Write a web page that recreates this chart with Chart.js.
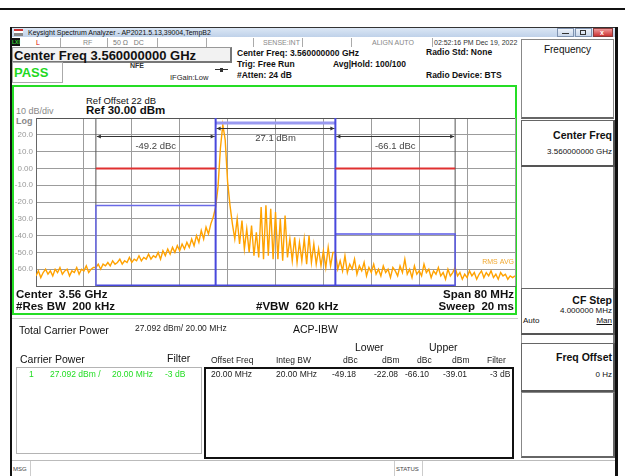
<!DOCTYPE html>
<html><head><meta charset="utf-8">
<script src="https://cdn.jsdelivr.net/npm/chart.js@4.4.1/dist/chart.umd.min.js"></script>
<style>
html,body{margin:0;padding:0;background:#fff;width:625px;height:476px;overflow:hidden;position:relative;font-family:'Liberation Sans',Arial,sans-serif;}
.t{position:absolute;white-space:nowrap;line-height:1;color:#111;}
.b{font-weight:bold;}
.box{position:absolute;box-sizing:border-box;}
.ln{position:absolute;}
</style></head><body>
<script>
// ---------------- DATA ----------------
const spanStartMHz = -40;           // offset from center 3.56 GHz
const spanStopMHz = 40;
// trace (RMS AVG), dBm, one value per 0.4 MHz from -40 MHz to +40 MHz
const traceLower1 = [-64,-61,-65,-62,-60,-63,-61,-64,-60,-62,-59,-63,-61,-60,-64,-61,-62,-59,-63,-60,-61,-58,-62,-60,-59];
const traceLower2 = [-59,-57,-60,-57,-58,-56,-58,-55,-57,-56,-54,-57,-55,-56,-53,-56,-54,-55,-52,-55,-53,-54,-51,-54,-52];
const traceLower3 = [-53,-50,-54,-49,-52,-48,-51,-47,-50,-46,-49,-45,-48,-44,-47,-42,-46,-40,-44,-37,-42,-35,-39,-33,-29];
const traceCarrier1 = [-23,-11,12,26,17,-8,-22,-33,-42,-30,-45,-31,-48,-36,-50,-34,-52,-38,-53,-23,-54,-22,-52,-24,-54];
const traceCarrier2 = [-26,-54,-30,-55,-28,-53,-42,-55,-41,-56,-44,-55,-42,-57,-40,-56,-45,-57,-48,-58,-49,-59,-47,-58,-50];
const traceUpper1 = [-50,-60,-55,-61,-52,-62,-57,-60,-54,-63,-58,-61,-56,-64,-59,-62,-57,-63,-60,-64,-58,-62,-60,-65,-59];
const traceUpper2 = [-61,-64,-58,-62,-54,-63,-60,-65,-58,-63,-61,-64,-57,-62,-60,-65,-61,-63,-59,-64,-62,-66,-60,-64,-62];
const traceUpper3 = [-59,-64,-62,-66,-63,-65,-61,-64,-62,-66,-63,-61,-65,-62,-64,-61,-65,-63,-66,-62,-64,-63,-66,-64,-65,-64];
const traceDbm = [].concat(traceLower1,traceLower2,traceLower3,traceCarrier1,traceCarrier2,traceUpper1,traceUpper2,traceUpper3);

const lowerChannelMHz = [-30, -10];
const carrierChannelMHz = [-10, 10];
const upperChannelMHz = [10, 30];
const channelPowerDbm = [-22.08, 27.09, -39.01];   // lower, carrier, upper
const limitDbm = 0;
const acpLabels = ['-49.2 dBc', '27.1 dBm', '-66.1 dBc'];
const refLevelDbm = 30;
const bottomDbm = -70;
</script>

<!-- window frame -->
<div class="ln" style="left:0;top:8px;width:625px;height:2px;background:#111"></div>
<div class="ln" style="left:10px;top:27px;width:608px;height:1px;background:#333"></div>
<div class="ln" style="left:10px;top:27px;width:2px;height:449px;background:#111"></div>
<div class="ln" style="left:615px;top:27px;width:3px;height:449px;background:#111"></div>
<div class="ln" style="left:12px;top:28px;width:603px;height:9px;background:linear-gradient(#dbe7f5,#bfd1e9)"></div>
<div class="ln" style="left:14px;top:29px;width:9px;height:7px;background:linear-gradient(#c33 0 30%,#fff 30% 55%,#888 55%)"></div>
<div class="t" style="left:28px;top:29px;font-size:7px;color:#111">Keysight Spectrum Analyzer - AP2021.5.13,39004,TempB2</div>
<div class="box" style="left:557px;top:28px;width:17px;height:9px;border:1px solid #7f93b0;background:linear-gradient(#eef3fa,#c9d7ea)"></div>
<div class="ln" style="left:562px;top:33px;width:7px;height:1px;background:#333"></div>
<div class="box" style="left:575px;top:28px;width:17px;height:9px;border:1px solid #7f93b0;background:linear-gradient(#eef3fa,#c9d7ea)"></div>
<div class="box" style="left:580px;top:30px;width:6px;height:5px;border:1px solid #333"></div>
<div class="box" style="left:593px;top:28px;width:20px;height:9px;border:1px solid #8a3a3a;background:linear-gradient(#e99,#c33)"></div>
<div class="t b" style="left:600px;top:29px;font-size:7px;color:#fff">x</div>

<!-- status row -->
<div class="box" style="left:12px;top:38px;width:8px;height:8px;background:#111"></div>
<div class="t b" style="left:12px;top:39.5px;font-size:5px;color:#3c3">LXI</div>
<div class="t" style="left:36px;top:38.5px;font-size:7px;color:#d00">L</div>
<div class="t" style="left:83px;top:38.5px;font-size:7px;color:#888">RF</div>
<div class="t" style="left:113px;top:38.5px;font-size:7px;color:#777">50 Ω&nbsp;&nbsp; DC</div>
<div class="t" style="left:263px;top:38.5px;font-size:7px;color:#888">SENSE:INT</div>
<div class="t" style="left:372px;top:38.5px;font-size:7px;color:#888">ALIGN AUTO</div>
<div class="t" style="left:434px;top:38.5px;font-size:7px;color:#333">02:52:16 PM Dec 19, 2022</div>
<div class="ln" style="left:60px;top:38px;width:1px;height:9px;background:#aaa"></div>
<div class="ln" style="left:107px;top:38px;width:1px;height:9px;background:#aaa"></div>
<div class="ln" style="left:157px;top:38px;width:1px;height:9px;background:#aaa"></div>
<div class="ln" style="left:206px;top:38px;width:1px;height:9px;background:#aaa"></div>
<div class="ln" style="left:253px;top:38px;width:1px;height:9px;background:#aaa"></div>
<div class="ln" style="left:302px;top:38px;width:1px;height:9px;background:#aaa"></div>
<div class="ln" style="left:351px;top:38px;width:1px;height:9px;background:#aaa"></div>
<div class="ln" style="left:432px;top:38px;width:1px;height:9px;background:#aaa"></div>

<!-- header -->
<div class="box" style="left:12px;top:47px;width:220px;height:16px;border:1px solid #999;border-right:2px solid #777;border-bottom:2px solid #777;background:#f2f2f2"></div>
<div class="t b" style="left:14px;top:48.5px;font-size:13px">Center Freq 3.560000000 GHz</div>
<div class="box" style="left:12px;top:62px;width:51px;height:21px;border:1px solid #aaa;background:#fff"></div>
<div class="t b" style="left:14px;top:65.5px;font-size:13px;color:#1fd81f">PASS</div>
<div class="t b" style="left:130px;top:62px;font-size:7px;color:#333">NFE</div>
<div class="t" style="left:170px;top:73.5px;font-size:7.5px;color:#222">IFGain:Low</div>
<div class="ln" style="left:215px;top:69px;width:13px;height:1px;background:#333"></div>
<div class="ln" style="left:220px;top:67.5px;width:3px;height:4px;background:#333"></div>
<div class="t b" style="left:237px;top:48.5px;font-size:8.5px">Center Freq: 3.560000000 GHz</div>
<div class="t b" style="left:237px;top:60px;font-size:8.5px">Trig: Free Run</div>
<div class="t b" style="left:237px;top:70.5px;font-size:8.5px">#Atten: 24 dB</div>
<div class="t b" style="left:333px;top:60px;font-size:8.5px">Avg|Hold: 100/100</div>
<div class="t b" style="left:426px;top:48px;font-size:8.5px">Radio Std: None</div>
<div class="t b" style="left:426px;top:71px;font-size:8.5px">Radio Device: BTS</div>

<!-- graph frame -->
<div class="box" style="left:12px;top:85px;width:505px;height:230px;border:2px solid #25dd25"></div>
<div class="t" style="left:86px;top:96px;font-size:9.5px">Ref Offset 22 dB</div>
<div class="t b" style="left:86px;top:105px;font-size:11.5px">Ref 30.00 dBm</div>
<div class="t" style="left:16px;top:107px;font-size:9px;color:#888">10 dB/div</div>
<div class="t b" style="left:16px;top:116.5px;font-size:9px;color:#888">Log</div>
<div class="box" style="left:12px;top:100px;width:506px;height:200px;">
  <canvas id="c" width="506" height="200" style="width:506px;height:200px"></canvas>
</div>
<div class="t b" style="left:16px;top:288.5px;font-size:11.5px">Center&nbsp; 3.56 GHz</div>
<div class="t b" style="left:16px;top:300.5px;font-size:11.5px">#Res BW&nbsp; 200 kHz</div>
<div class="t b" style="left:256px;top:300.5px;font-size:11.5px">#VBW&nbsp; 620 kHz</div>
<div class="t b" style="right:111px;top:288.5px;font-size:11.5px">Span 80 MHz</div>
<div class="t b" style="right:111px;top:300.5px;font-size:11.5px">Sweep&nbsp; 20 ms</div>

<!-- results -->
<div class="ln" style="left:12px;top:318px;width:506px;height:1px;background:#ccc"></div>
<div class="t" style="left:19px;top:325px;font-size:10.5px">Total Carrier Power</div>
<div class="t" style="left:135px;top:323.5px;font-size:8.5px;color:#222">27.092 dBm/ 20.00 MHz</div>
<div class="t" style="left:293px;top:324px;font-size:10.5px">ACP-IBW</div>
<div class="t" style="left:355px;top:342px;font-size:10.5px">Lower</div>
<div class="t" style="left:429px;top:342px;font-size:10.5px">Upper</div>
<div class="t" style="left:20px;top:353.5px;font-size:10.5px">Carrier Power</div>
<div class="t" style="left:167px;top:352.5px;font-size:10.5px">Filter</div>
<div class="t" style="left:211px;top:355.5px;font-size:8.5px;color:#222">Offset Freq</div>
<div class="t" style="left:276px;top:355.5px;font-size:8.5px;color:#222">Integ BW</div>
<div class="t" style="left:343px;top:355.5px;font-size:8.5px;color:#222">dBc</div>
<div class="t" style="left:382px;top:355.5px;font-size:8.5px;color:#222">dBm</div>
<div class="t" style="left:417px;top:355.5px;font-size:8.5px;color:#222">dBc</div>
<div class="t" style="left:452px;top:355.5px;font-size:8.5px;color:#222">dBm</div>
<div class="t" style="left:487px;top:355.5px;font-size:8.5px;color:#222">Filter</div>
<div class="box" style="left:16px;top:367px;width:186px;height:87px;border:1px solid #b4b4b4"></div>
<div class="box" style="left:204px;top:367px;width:310px;height:92px;border:2px solid #111"></div>
<div class="t" style="left:29px;top:370px;font-size:8.5px;color:#22dd22">1</div>
<div class="t" style="left:50px;top:370px;font-size:8.5px;color:#22dd22">27.092 dBm /</div>
<div class="t" style="left:112px;top:370px;font-size:8.5px;color:#22dd22">20.00 MHz</div>
<div class="t" style="left:165px;top:370px;font-size:8.5px;color:#22dd22">-3 dB</div>
<div class="t" style="left:211px;top:370px;font-size:8.5px;color:#222">20.00 MHz</div>
<div class="t" style="left:276px;top:370px;font-size:8.5px;color:#222">20.00 MHz</div>
<div class="t" style="left:332px;top:370px;font-size:8.5px;color:#222">-49.18</div>
<div class="t" style="left:374px;top:370px;font-size:8.5px;color:#222">-22.08</div>
<div class="t" style="left:405px;top:370px;font-size:8.5px;color:#222">-66.10</div>
<div class="t" style="left:443px;top:370px;font-size:8.5px;color:#222">-39.01</div>
<div class="t" style="left:490px;top:370px;font-size:8.5px;color:#222">-3 dB</div>

<!-- bottom status -->
<div class="ln" style="left:12px;top:460px;width:603px;height:1px;background:#bbb"></div>
<div class="ln" style="left:30px;top:461px;width:1px;height:15px;background:#ccc"></div>
<div class="ln" style="left:394px;top:461px;width:1px;height:15px;background:#ccc"></div>
<div class="ln" style="left:422px;top:461px;width:1px;height:15px;background:#ccc"></div>
<div class="t" style="left:13px;top:465.5px;font-size:6px;color:#444">MSG</div>
<div class="t" style="left:396px;top:465.5px;font-size:6px;color:#444">STATUS</div>

<!-- right softkey panel -->
<div class="box" style="left:521px;top:39px;width:93px;height:80px;border:1px solid #888;border-bottom:2px solid #666"></div>
<div class="t" style="left:521px;width:93px;text-align:center;top:45px;font-size:10px">Frequency</div>
<div class="box" style="left:521px;top:120px;width:94px;height:47px;border:1px solid #666;border-right:2px solid #555;border-bottom:2px solid #555"></div>
<div class="t b" style="right:13px;top:130px;font-size:10.5px">Center Freq</div>
<div class="t" style="right:13px;top:147.5px;font-size:8px">3.560000000 GHz</div>
<div class="box" style="left:521px;top:167px;width:94px;height:121px;border-left:1px solid #999;border-right:2px solid #777"></div>
<div class="box" style="left:521px;top:288px;width:94px;height:47px;border:1px solid #666;border-right:2px solid #555;border-bottom:2px solid #555"></div>
<div class="t b" style="right:13px;top:295px;font-size:10.5px">CF Step</div>
<div class="t" style="right:13px;top:306.5px;font-size:8px">4.000000 MHz</div>
<div class="t" style="left:523px;top:317px;font-size:8px">Auto</div>
<div class="t" style="right:13px;top:317px;font-size:8px;text-decoration:underline">Man</div>
<div class="box" style="left:521px;top:335px;width:94px;height:8px;border-left:1px solid #999;border-right:2px solid #777"></div>
<div class="box" style="left:521px;top:343px;width:94px;height:49px;border:1px solid #666;border-right:2px solid #555;border-bottom:2px solid #555"></div>
<div class="t b" style="right:13px;top:351.5px;font-size:10.5px">Freq Offset</div>
<div class="t" style="right:13px;top:371px;font-size:8px">0 Hz</div>
<div class="box" style="left:521px;top:392px;width:94px;height:66px;border:1px solid #888;border-right:2px solid #666;border-bottom:2px solid #666"></div>

<script>
const stepMHz = (spanStopMHz - spanStartMHz) / (traceDbm.length - 1);
const tracePoints = traceDbm.map((v, i) => ({x: spanStartMHz + i * stepMHz, y: v}));

const seg = (pts) => pts.map(p => p === null ? {x: 0, y: null} : {x: p[0], y: p[1]});

const edgeLines = seg([[lowerChannelMHz[0], bottomDbm], [lowerChannelMHz[0], refLevelDbm], null,
                       [upperChannelMHz[1], bottomDbm], [upperChannelMHz[1], refLevelDbm]]);
const blueVerticals = seg([[carrierChannelMHz[0], bottomDbm], [carrierChannelMHz[0], refLevelDbm], null,
                           [carrierChannelMHz[1], bottomDbm], [carrierChannelMHz[1], refLevelDbm]]);
const lowerBox = seg([[lowerChannelMHz[0], bottomDbm], [lowerChannelMHz[0], channelPowerDbm[0]], [lowerChannelMHz[1], channelPowerDbm[0]]]);
const upperBox = seg([[upperChannelMHz[0], channelPowerDbm[2]], [upperChannelMHz[1], channelPowerDbm[2]], [upperChannelMHz[1], bottomDbm]]);
const bottomBlue = seg([[lowerChannelMHz[0], bottomDbm], [upperChannelMHz[1], bottomDbm]]);
const carrierTop = seg([[carrierChannelMHz[0], channelPowerDbm[1]], [carrierChannelMHz[1], channelPowerDbm[1]]]);
const limitLines = seg([[lowerChannelMHz[0], limitDbm], [lowerChannelMHz[1], limitDbm], null,
                        [upperChannelMHz[0], limitDbm], [upperChannelMHz[1], limitDbm]]);

const lineDs = (data, color, width, order) => ({
  data, borderColor: color, borderWidth: width, pointRadius: 0, spanGaps: false,
  tension: 0, fill: false, order
});

const annot = {
  id: 'annot',
  afterDatasetsDraw(chart) {
    const {ctx, scales: {x, y}} = chart;
    ctx.save();
    const arrows = [
      [lowerChannelMHz, 19, acpLabels[0]],
      [carrierChannelMHz, 24, acpLabels[1]],
      [upperChannelMHz, 19, acpLabels[2]]
    ];
    ctx.strokeStyle = '#333'; ctx.fillStyle = '#333'; ctx.lineWidth = 1;
    arrows.forEach(([ch, lvl, label]) => {
      const x1 = x.getPixelForValue(ch[0]) + 1, x2 = x.getPixelForValue(ch[1]) - 1;
      const py = Math.round(y.getPixelForValue(lvl)) + 0.5;
      ctx.beginPath(); ctx.moveTo(x1, py); ctx.lineTo(x2, py); ctx.stroke();
      ctx.beginPath(); ctx.moveTo(x1, py); ctx.lineTo(x1 + 4, py - 2); ctx.lineTo(x1 + 4, py + 2); ctx.closePath(); ctx.fill();
      ctx.beginPath(); ctx.moveTo(x2, py); ctx.lineTo(x2 - 4, py - 2); ctx.lineTo(x2 - 4, py + 2); ctx.closePath(); ctx.fill();
      ctx.font = '9.5px "Liberation Sans", Arial, sans-serif';
      ctx.fillStyle = '#444'; ctx.textAlign = 'center'; ctx.textBaseline = 'middle';
      ctx.fillText(label, (x1 + x2) / 2, py + 9.5);
      ctx.fillStyle = '#333';
    });
    ctx.font = '7px "Liberation Sans", Arial, sans-serif';
    ctx.fillStyle = '#f0a830'; ctx.textAlign = 'right'; ctx.textBaseline = 'middle';
    ctx.fillText('RMS AVG', chart.chartArea.right - 1, y.getPixelForValue(-56));
    ctx.restore();
  }
};

new Chart(document.getElementById('c'), {
  type: 'line',
  data: {
    datasets: [
      lineDs(limitLines, '#e03030', 2, 1),
      lineDs(blueVerticals, '#4848dd', 2, 2),
      lineDs(lowerBox, '#6a6ae8', 1.5, 2),
      lineDs(upperBox, '#5a5ae6', 1.5, 2),
      lineDs(bottomBlue, '#4848dd', 3, 2),
      lineDs(carrierTop, '#9a9af0', 3, 2),
      lineDs(tracePoints, '#ffa200', 1.4, 3),
      lineDs(edgeLines, '#555', 1, 4)
    ]
  },
  options: {
    responsive: false, animation: false, devicePixelRatio: 1,
    parsing: true,
    layout: {padding: {left: 0, right: 3, top: 18, bottom: 14}},
    plugins: {legend: {display: false}, tooltip: {enabled: false}},
    scales: {
      x: {
        type: 'linear', min: spanStartMHz, max: spanStopMHz,
        ticks: {display: false, stepSize: 8},
        grid: {color: '#9c9c9c', drawTicks: false, lineWidth: 1},
        border: {display: true, color: '#666'},
        afterFit: s => { s.height = 0; }
      },
      y: {
        type: 'linear', min: bottomDbm, max: refLevelDbm,
        ticks: {
          stepSize: 10, padding: 3, color: '#999',
          font: {family: '"Liberation Sans", Arial, sans-serif', size: 8},
          callback: v => (v === refLevelDbm || v === bottomDbm) ? '' : (v === 0 ? '0.00' : v.toFixed(1))
        },
        grid: {color: (c) => c.tick && c.tick.value === refLevelDbm ? '#555' : '#9c9c9c', drawTicks: false, lineWidth: 1},
        border: {display: true, color: '#666'},
        afterFit: s => { s.width = 24; }
      }
    }
  },
  plugins: [annot]
});
</script>
</body></html>
